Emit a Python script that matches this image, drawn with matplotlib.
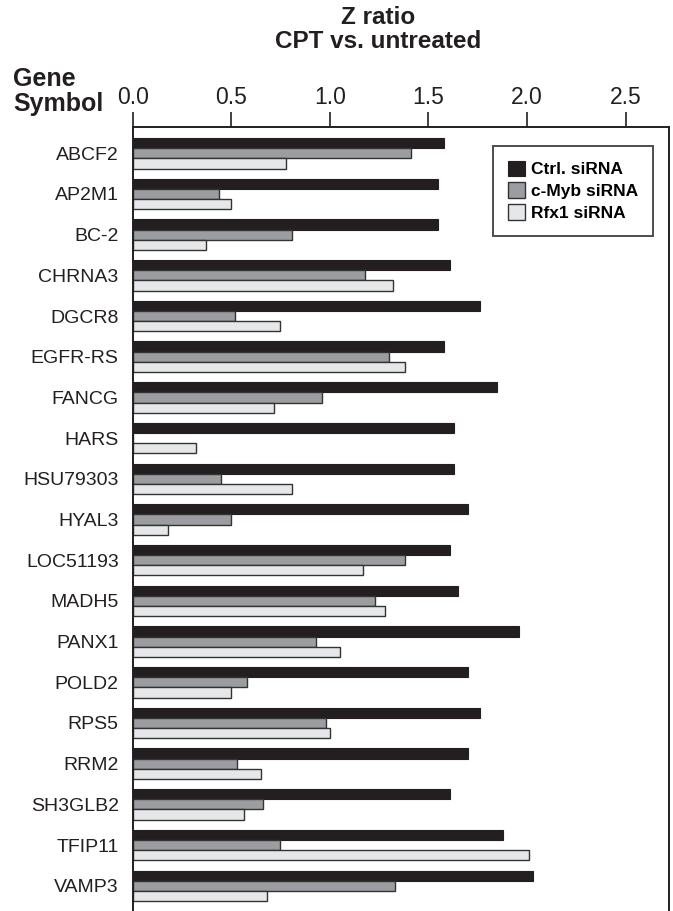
import numpy as np
import matplotlib
matplotlib.use("Agg")
import matplotlib.pyplot as plt

plt.rcParams['font.family'] = ['Liberation Sans', 'DejaVu Sans']

genes = ["ABCF2", "AP2M1", "BC-2", "CHRNA3", "DGCR8", "EGFR-RS", "FANCG", "HARS",
         "HSU79303", "HYAL3", "LOC51193", "MADH5", "PANX1", "POLD2", "RPS5", "RRM2",
         "SH3GLB2", "TFIP11", "VAMP3"]

ctrl = [1.58, 1.55, 1.55, 1.61, 1.76, 1.58, 1.85, 1.63, 1.63, 1.70,
        1.61, 1.65, 1.96, 1.70, 1.76, 1.70, 1.61, 1.88, 2.03]
cmyb = [1.41, 0.44, 0.81, 1.18, 0.52, 1.30, 0.96, 0.0, 0.45, 0.50,
        1.38, 1.23, 0.93, 0.58, 0.98, 0.53, 0.66, 0.75, 1.33]
rfx1 = [0.78, 0.50, 0.37, 1.32, 0.75, 1.38, 0.715, 0.32, 0.81, 0.18,
        1.17, 1.28, 1.05, 0.50, 1.00, 0.65, 0.565, 2.01, 0.68]

series_names = ["Ctrl. siRNA", "c-Myb siRNA", "Rfx1 siRNA"]
colors = ["#231f20", "#9c9da0", "#e6e7e8"]

fig = plt.figure(figsize=(6.73, 9.11), dpi=100)
ax = fig.add_axes([0.197, 0.0, 0.797, 0.8606])

y = np.arange(len(genes))
h = 0.25
ax.barh(y - h, ctrl, height=h, color=colors[0], edgecolor="#231f20", linewidth=0.8, label=series_names[0])
ax.barh(y, cmyb, height=h, color=colors[1], edgecolor="#333333", linewidth=1.0, label=series_names[1])
ax.barh(y + h, rfx1, height=h, color=colors[2], edgecolor="#333333", linewidth=1.0, label=series_names[2])

ax.set_xlim(0, 2.72)
ax.set_ylim(18.62, -0.645)

# axis on top
ax.xaxis.tick_top()
ax.set_xticks([0.0, 0.5, 1.0, 1.5, 2.0, 2.5])
ax.set_xticklabels(["0.0", "0.5", "1.0", "1.5", "2.0", "2.5"], fontsize=16.5, color="#231f20")
ax.tick_params(axis="x", direction="out", length=11, width=1.2, pad=2, colors="#231f20")

ax.set_yticks(y)
ax.set_yticklabels(genes, fontsize=14, color="#231f20")
ax.tick_params(axis="y", length=0, pad=10)

for s in ["top", "left", "right"]:
    ax.spines[s].set_linewidth(1.4)
    ax.spines[s].set_color("#231f20")
ax.spines["bottom"].set_visible(False)

leg = ax.legend(loc="upper left", bbox_to_anchor=(0.672, 0.976), borderaxespad=0,
                frameon=True, fancybox=False, edgecolor="#231f20",
                prop={"weight": "bold", "size": 12.5},
                handlelength=1.0, handleheight=1.0, handletextpad=0.35,
                labelspacing=0.3, borderpad=0.85)
leg.get_frame().set_linewidth(1.4)

fig.text(0.562, 0.993, "Z ratio\nCPT vs. untreated", ha="center", va="top",
         fontsize=17.5, fontweight="bold", color="#231f20", linespacing=1.05)
fig.text(0.02, 0.927, "Gene\nSymbol", ha="left", va="top",
         fontsize=18, fontweight="bold", color="#231f20", linespacing=1.08)

plt.savefig("out.png", dpi=100)
